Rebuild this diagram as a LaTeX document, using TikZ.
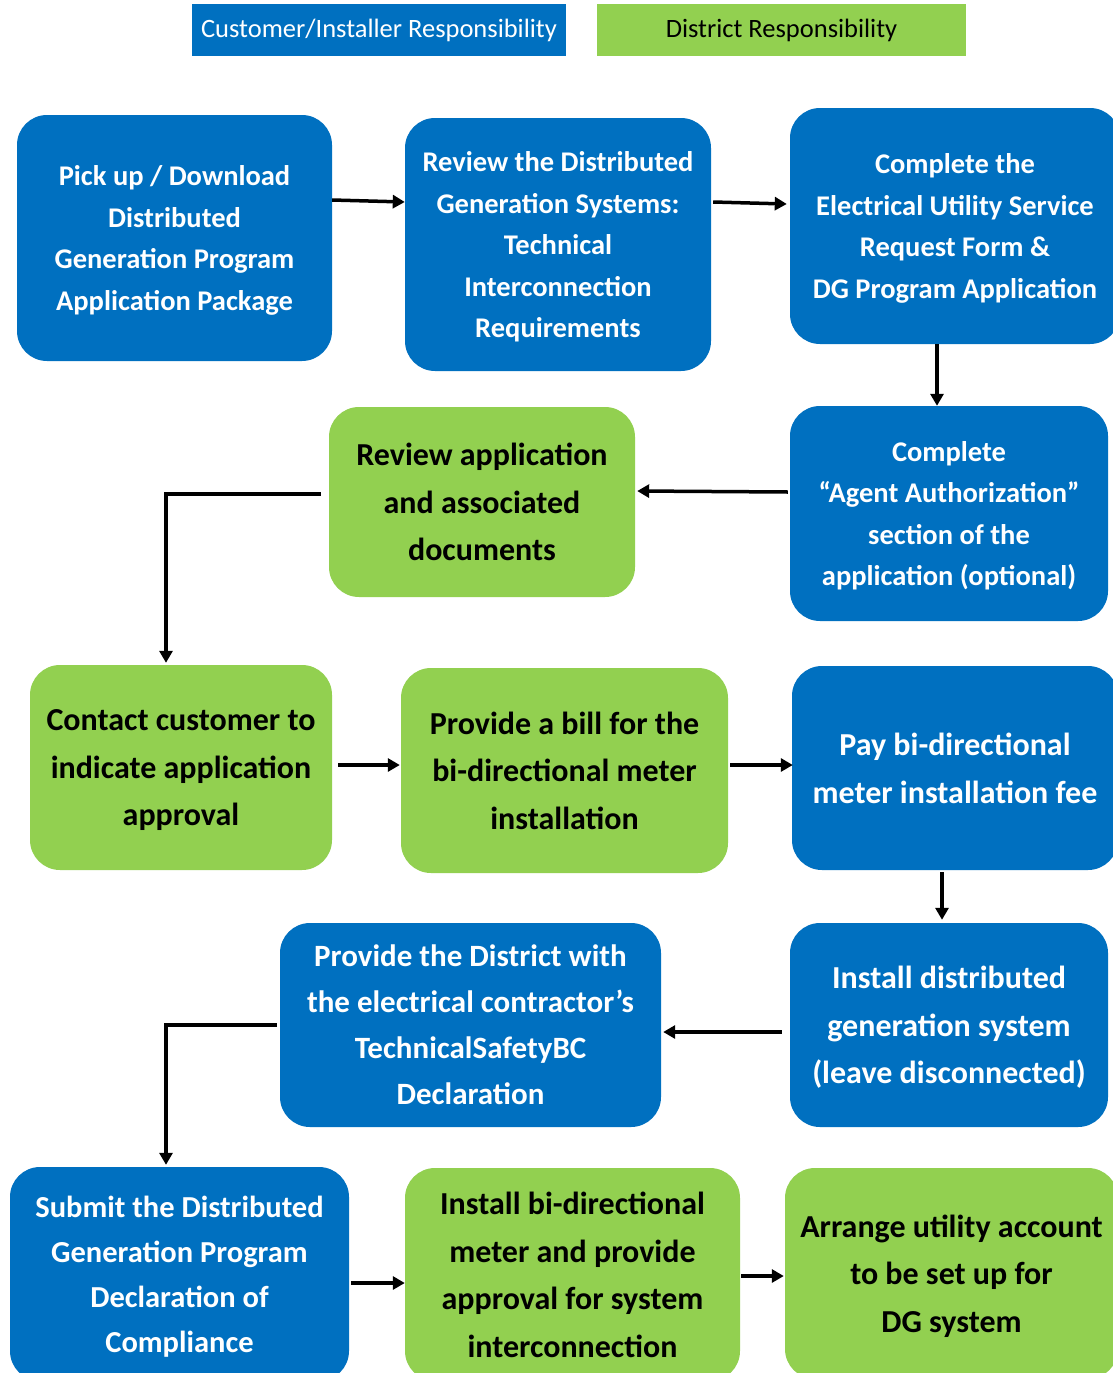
\documentclass[tikz,border=0pt]{standalone}
\usepackage{fontspec}
\setmainfont{Carlito}
\usetikzlibrary{arrows.meta}

\definecolor{custblue}{HTML}{0070C0}
\definecolor{distgreen}{HTML}{92D050}

\begin{document}
\begin{tikzpicture}[x=1pt,y=-1pt,
    cust/.style={fill=custblue,text=white,rounded corners=30pt,align=center,
      font=\bfseries\fontsize{28.5}{41.5}\selectfont,inner sep=0pt,text depth=-2pt},
    dist/.style={fill=distgreen,text=black,rounded corners=30pt,align=center,
      font=\bfseries\fontsize{32}{47.5}\selectfont,inner sep=0pt,text depth=-2pt},
    big/.style={font=\bfseries\fontsize{32}{47.5}\selectfont},
    box/.style args={#1x#2}{minimum width=#1pt,minimum height=#2pt},
    key/.style={inner sep=0pt,font=\fontsize{26.5}{30}\selectfont},
    arr/.style={line width=3.5pt,-{Triangle[length=12pt,width=13pt]}}]
  \useasboundingbox (0,0) rectangle (1113,1373);
  \clip (0,0) rectangle (1113,1373);
  \fill[white] (0,0) rectangle (1113,1373);

  \node[key,fill=custblue,text=white,box=374x52] (kc) at (379,30) {Customer/Installer Responsibility};
  \node[key,fill=distgreen,text=black,box=369x52] (kd) at (781.5,30) {District Responsibility};

  \node[cust,box=315x246] (A) at (174.5,238) {Pick up / Download\\Distributed\\Generation Program\\Application Package};
  \node[cust,box=306x253] (B) at (558,244.5) {Review the Distributed\\Generation Systems:\\Technical\\Interconnection\\Requirements};
  \node[cust,box=330x236] (C) at (955,226) {Complete the\\Electrical Utility Service\\Request Form \&\\DG Program Application};

  \node[dist,box=306x190] (D) at (482,502) {Review application\\and associated\\documents};
  \node[cust,box=318x215] (E) at (949,513.5) {Complete\\“Agent Authorization”\\section of the\\application (optional)};

  \node[dist,box=302x205] (F) at (181,767.5) {Contact customer to\\indicate application\\approval};
  \node[dist,box=327x205] (G) at (564.5,770.5) {Provide a bill for the\\bi-directional meter\\installation};
  \node[cust,big,box=326x204] (H) at (955,768) {Pay bi-directional\\meter installation fee};

  \node[cust,font=\bfseries\fontsize{31}{46}\selectfont,box=381x204] (I) at (470.5,1025) {Provide the District with\\the electrical contractor’s\\TechnicalSafetyBC\\Declaration};
  \node[cust,big,box=318x204] (J) at (949,1025) {Install distributed\\generation system\\(leave disconnected)};

  \node[cust,font=\bfseries\fontsize{30.5}{45}\selectfont,box=339x214] (K) at (179.5,1274) {Submit the Distributed\\Generation Program\\Declaration of\\Compliance};
  \node[dist,box=335x213] (L) at (572.5,1274.5) {Install bi-directional\\meter and provide\\approval for system\\interconnection};
  \node[dist,box=333x211] (M) at (951.5,1273.5) {Arrange utility account\\to be set up for\\DG system};

  \draw[arr] ([yshift=38pt]A.east) -- ([yshift=42.5pt]B.west);
  \draw[arr] ([xshift=2pt,yshift=42.5pt]B.east) -- ([xshift=-3pt,yshift=22pt]C.west);
  \draw[arr] ([xshift=-18pt]C.south) -- ([xshift=-18pt]C.south |- E.north);
  \draw[arr] ([xshift=-2pt,yshift=21.5pt]E.west) -- ([xshift=2pt,yshift=11pt]D.east);
  \draw[arr] ([xshift=-8pt,yshift=8pt]D.west) -| ([xshift=-15pt,yshift=2pt]F.north);
  \draw[arr] ([xshift=6pt,yshift=2.5pt]F.east) -- ([xshift=-1pt,yshift=5.5pt]G.west);
  \draw[arr] ([xshift=2pt,yshift=5.5pt]G.east) -- ([xshift=1pt,yshift=3pt]H.west);
  \draw[arr] ([xshift=-13pt,yshift=-2pt]H.south) -- ([xshift=-7pt,yshift=3pt]J.north);
  \draw[arr] ([xshift=-8pt,yshift=-7pt]J.west) -- ([xshift=2pt,yshift=-7pt]I.east);
  \draw[arr] ([xshift=-3pt,yshift=0pt]I.west) -| ([xshift=-13.5pt,yshift=2pt]K.north);
  \draw[arr] ([xshift=2pt,yshift=-9pt]K.east) -- ([yshift=-8.5pt]L.west);
  \draw[arr] ([xshift=1pt,yshift=-1.5pt]L.east) -- ([xshift=-1pt,yshift=-2.5pt]M.west);
\end{tikzpicture}
\end{document}
